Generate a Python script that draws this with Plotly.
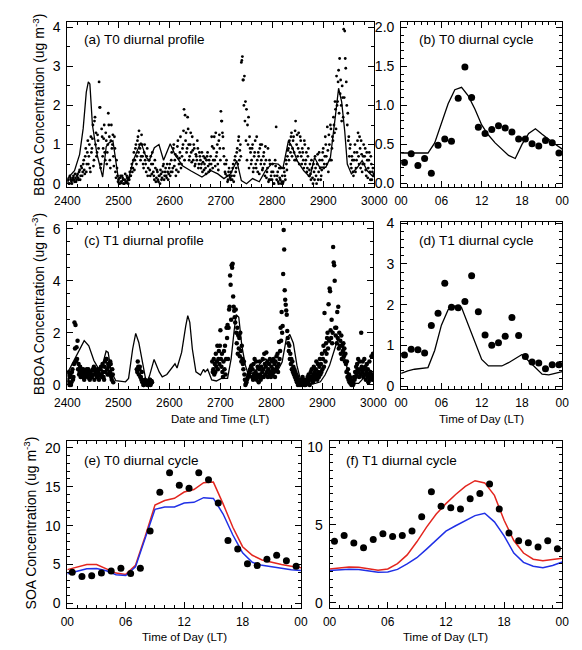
import plotly.graph_objects as go

W, H = 582, 650

# ---------------- data ----------------
# (a) T0 BBOA observations, even hours from 2400
a_obs_v = [
    0.05, 0.1, 0.0, 0.15, 0.05, 0.1, 0.2, 0.05, 0.15, 0.1,
    0.25, 0.1, 0.35, 0.2, 0.4, 0.3, 0.6, 0.25, 0.9, 0.5,
    1.1, 0.7, 0.4, 1.2, 0.9, 1.5, 0.6, 1.7, 1.3, 0.8,
    1.1, 2.6, 1.95, 0.5, 1.2, 0.9, 1.5, 0.6, 1.1, 0.8,
    1.8, 1.2, 0.4, 1.5, 1.0, 0.7, 1.2, 0.3, 0.6, 0.2,
    0.1, 0.0, 0.2, 0.05, 0.15, 0.0, 0.1, 0.05, 0.2, 0.1,
    0.15, 0.3, 0.2, 0.5, 0.4, 0.8, 0.6, 1.0, 0.7, 1.2,
    1.35, 0.9, 0.7, 1.0, 0.5, 0.8, 0.6, 0.3, 0.9, 0.4,
    0.6, 0.2, 0.5, 0.8, 0.3, 0.1, 0.4, 0.15, 0.3, 0.05,
    0.2, 0.35, 0.1, 0.3, 0.5, 0.2, 0.4, 0.15, 0.3, 0.25,
    0.5, 0.3, 0.8, 0.4, 1.0, 0.6, 0.2, 0.7, 1.1, 0.5,
    0.8, 0.4, 0.7, 1.0, 1.9, 1.75, 1.3, 0.9, 1.4, 0.6,
    1.0, 0.8, 1.2, 0.6, 0.9, 0.5, 0.7, 1.1, 0.4, 0.8,
    0.6, 0.5, 0.3, 0.7, 0.5, 0.4, 0.6, 0.8, 0.3, 0.5,
    0.7, 1.2, 0.4, 0.9, 0.6, 1.3, 0.8, 0.5, 1.1, 0.9,
    1.85, 1.6, 1.2, 0.7, 0.3, 0.5, 0.2, 0.1, 0.4, 0.15,
    0.3, 0.1, 0.5, 0.2, 0.7, 0.4, 0.9, 1.1, 0.6, 1.0,
    3.1, 3.25, 2.65, 2.75, 2.1, 1.9, 1.5, 1.7, 1.2, 0.8,
    0.6, 1.0, 0.4, 0.8, 0.5, 1.2, 0.3, 0.7, 0.9, 0.5,
    1.0, 0.4, 0.8, 0.2, 0.6, 0.3, 0.9, 0.1, 0.5, 0.2,
    0.1, 0.3, 0.0, 0.6, 1.45, 0.2, 0.05, 0.4, 0.1, 0.0,
    0.2, 0.05, 0.3, 0.1, 0.5, 0.7, 0.9, 1.1, 0.8, 1.3,
    0.9, 1.2, 0.6, 1.6, 1.0, 0.7, 1.3, 0.8, 1.1, 0.5,
    0.8, 0.4, 1.0, 0.6, 0.3, 0.7, 0.2, 0.5, 0.1, 0.4,
    0.0, 0.3, 0.7, 0.2, 0.5, 0.1, 0.8, 0.4, 0.2, 0.6,
    0.9, 0.5, 1.2, 0.7, 1.45, 0.3, 1.0, 1.5, 0.6, 1.2,
    1.7, 1.3, 1.9, 2.75, 2.1, 2.9, 3.2, 2.65, 1.6, 2.2,
    3.95, 3.9, 2.95, 2.0, 1.8, 1.2, 0.9, 0.5, 0.7, 0.3,
    0.6, 1.0, 0.4, 0.8, 1.3, 0.5, 0.9, 1.1, 0.3, 0.7,
    0.5, 0.9, 0.2, 0.6, 0.4, 0.8, 0.1, 0.5, 0.3, 0.2,
]
a_obs_t = [2400 + 2 * i for i in range(len(a_obs_v))]
# (a) T0 BBOA observations, odd hours from 2401
a_obs2_v = [
    0.1, 0.0, 0.2, 0.1, 0.0, 0.15, 0.1, 0.25, 0.05, 0.2,
    0.15, 0.3, 0.1, 0.45, 0.2, 0.5, 0.35, 0.7, 0.3, 0.8,
    0.5, 1.0, 0.3, 0.8, 1.15, 0.45, 1.6, 1.0, 0.7, 1.25,
    0.9, 1.95, 0.4, 1.4, 0.7, 1.15, 0.8, 1.3, 0.5, 1.0,
    1.5, 0.6, 1.1, 0.9, 1.25, 0.45, 0.9, 0.15, 0.4, 0.05,
    0.0, 0.15, 0.05, 0.2, 0.1, 0.0, 0.25, 0.05, 0.15, 0.0,
    0.1, 0.2, 0.4, 0.3, 0.6, 0.35, 0.9, 0.5, 1.1, 0.8,
    1.0, 0.6, 1.25, 0.7, 0.4, 1.0, 0.5, 0.7, 0.2, 0.6,
    0.35, 0.7, 0.25, 0.5, 0.2, 0.6, 0.05, 0.35, 0.1, 0.2,
    0.0, 0.25, 0.15, 0.45, 0.1, 0.3, 0.2, 0.5, 0.1, 0.4,
    0.2, 0.6, 0.3, 0.9, 0.45, 0.75, 0.35, 0.95, 0.3, 0.65,
    1.2, 0.5, 0.9, 1.35, 0.6, 1.1, 0.8, 1.7, 1.0, 0.7,
    1.3, 0.55, 0.85, 1.0, 0.45, 0.75, 0.6, 0.9, 0.5, 0.7,
    0.4, 0.8, 0.55, 0.35, 0.65, 0.25, 0.7, 0.45, 0.6, 0.35,
    0.5, 0.95, 0.6, 1.2, 0.45, 0.7, 1.0, 0.35, 1.25, 0.6,
    1.6, 1.3, 0.9, 0.5, 0.25, 0.6, 0.05, 0.3, 0.2, 0.1,
    0.2, 0.4, 0.05, 0.6, 0.3, 0.8, 0.5, 1.2, 0.85, 0.7,
    3.15, 2.65, 2.0, 1.6, 1.1, 0.6, 1.0, 0.4, 0.9, 0.5,
    0.9, 0.3, 0.7, 1.1, 0.4, 0.6, 0.8, 0.25, 1.0, 0.6,
    0.35, 0.7, 0.5, 0.95, 0.15, 0.4, 0.05, 0.6, 0.1, 0.3,
    0.5, 0.0, 0.2, 0.45, 0.1, 0.3, 0.0, 0.15, 0.4, 0.05,
    0.0, 0.4, 0.2, 0.6, 0.35, 0.85, 0.6, 1.0, 1.2, 0.7,
    1.1, 0.8, 1.35, 0.6, 1.25, 0.9, 0.5, 1.2, 0.7, 0.9,
    0.6, 1.1, 0.5, 0.8, 0.4, 0.9, 0.35, 0.25, 0.6, 0.15,
    0.5, 0.1, 0.4, 0.0, 0.75, 0.3, 0.6, 0.1, 0.35, 0.8,
    0.4, 0.7, 1.0, 0.5, 0.85, 1.25, 0.6, 1.4, 0.9, 1.1,
    1.5, 2.1, 1.4, 2.0, 2.6, 1.8, 2.3, 2.0, 2.5, 1.7,
    2.2, 3.2, 2.6, 1.5, 1.1, 0.7, 1.0, 0.4, 0.6, 0.2,
    0.8, 0.3, 0.6, 1.1, 0.7, 1.2, 0.4, 0.75, 0.5, 1.0,
    0.7, 0.35, 0.8, 0.15, 0.6, 0.3, 0.7, 0.1, 0.4, 0.25,
]
a_obs2_t = [2401 + 2 * i for i in range(len(a_obs2_v))]

# (a) T0 BBOA model
a_mod_t = [2400, 2414, 2424, 2431, 2437, 2441, 2444, 2449, 2458, 2469, 2476, 2482,
           2489, 2495, 2501, 2517, 2529, 2539, 2544, 2554, 2560, 2570, 2579, 2588,
           2601, 2610, 2625, 2641, 2663, 2681, 2694, 2706, 2719, 2731, 2740, 2750,
           2762, 2775, 2787, 2800, 2812, 2821, 2832, 2840, 2849, 2862, 2874, 2883,
           2893, 2905, 2914, 2924, 2930, 2936, 2942, 2947, 2955, 2967, 2976, 2986,
           2998]
a_mod_v = [0.13, 0.33, 0.75, 1.42, 2.34, 2.6, 2.55, 1.5, 0.75, 0.17, 0.95, 1.05,
           1.1, 0.6, 0.0, 0.0, 0.6, 0.92, 1.05, 0.67, 0.59, 0.92, 1.0, 0.6,
           1.02, 0.75, 0.46, 0.33, 0.17, 0.33, 0.25, 0.13, 0.25, 0.59, 0.08, 0.0,
           0.13, 0.05, 0.33, 0.52, 0.5, 0.38, 1.1, 0.92, 0.59, 0.33, 0.17, 0.67,
           0.42, 0.42, 0.67, 1.76, 2.44, 2.09, 1.34, 0.5, 0.25, 0.42, 0.59, 0.33,
           0.17]

# (b) T0 BBOA diurnal cycle
hours_mid = [h + 0.5 for h in range(24)]
hours = list(range(25))
b_obs = [0.27, 0.38, 0.23, 0.32, 0.13, 0.49, 0.57, 0.54, 1.09, 1.49, 1.10, 0.72,
         0.64, 0.69, 0.74, 0.71, 0.66, 0.57, 0.57, 0.51, 0.48, 0.55, 0.52, 0.39]
b_mod = [0.39, 0.39, 0.39, 0.39, 0.39, 0.52, 0.78, 1.02, 1.2, 1.23, 1.12, 0.95,
         0.75, 0.62, 0.52, 0.44, 0.36, 0.32, 0.5, 0.64, 0.7, 0.63, 0.56, 0.5, 0.44]

# (c) T1 BBOA observations
c_obs1_v = [  # even hours from 2400
    0.2, 0.5, 0.0, 0.4, 0.1, 0.6, 0.3, 2.4, 2.3, 1.45,
    1.7, 0.8, 0.5, 0.3, 0.6, 0.4, 0.5, 0.3, 0.4, 0.6,
    0.3, 0.5, 0.2, 0.4, 0.3, 0.6, 0.7, 0.4, 0.5, 0.3,
    0.6, 0.2, 0.4, 0.7, 0.3, 0.5, 0.2, 0.9, 1.0, 0.6,
    0.8, 0.4, 0.9, 0.3, 0.6, 0.1,
]
c_obs1_t = [2400 + 2 * i for i in range(len(c_obs1_v))]
c_obs1b_v = [  # odd hours from 2401
    0.4, 0.1, 0.3, 0.0, 0.5, 0.2, 0.8, 1.4, 0.9, 1.0,
    0.6, 0.4, 0.7, 0.5, 0.3, 0.6, 0.2, 0.5, 0.35, 0.45,
    0.6, 0.25, 0.5, 0.3, 0.55, 0.4, 0.2, 0.6, 0.45, 0.3,
    0.5, 0.35, 0.6, 0.4, 0.8, 0.3, 0.7, 0.5, 1.0, 0.4,
    0.7, 0.5, 0.8, 0.2, 0.4,
]
c_obs1b_t = [2401 + 2 * i for i in range(len(c_obs1b_v))]
c_obs2_v = [  # hourly from 2536
    0.6, 0.5, 0.9, 0.7, 0.4, 0.6, 0.7, 0.3, 0.3, 0.2, 0.5, 0.1, 0.1, 0.0, 0.0,
    0.1, 0.2, 0.05, 0.05, 0.15, 0.15, 0.0, 0.0, 0.1, 0.1, 0.2, 0.2, 0.0, 0.05,
    0.15, 0.1,
]
c_obs2_t = [2536 + i for i in range(len(c_obs2_v))]
c_obs3_v = [  # hourly from 2684
    0.9, 0.5, 0.6, 1.0, 0.4, 0.8, 0.5, 1.2, 0.7, 0.9,
    1.5, 0.6, 1.0, 1.3, 0.8, 1.5, 2.1, 1.0, 0.7, 1.2,
    0.5, 0.3, 0.9, 1.3, 0.6, 1.5, 0.4, 1.0, 2.2, 1.8,
    2.3, 1.0, 2.2, 2.9, 3.0, 4.2, 3.85, 2.5, 4.6, 4.5,
    4.65, 3.4, 3.0, 2.85, 2.6, 2.4, 2.9, 2.0, 1.6, 2.2,
    1.2, 1.9, 1.4, 1.8, 1.1, 2.0, 1.3, 0.9, 1.5, 1.0,
    0.8, 0.6, 0.9, 0.4, 0.2, 0.0, 0.05, 0.1, 0.2, 0.25,
    0.3, 0.4, 0.35, 0.5, 0.6, 0.55, 0.7, 0.75, 0.3, 0.6,
    0.2, 0.8, 0.4, 1.0, 0.3, 0.5, 0.9, 0.2, 0.4, 0.7,
    0.3, 0.1, 0.6, 0.9, 0.4, 0.2, 0.7, 0.3, 0.5, 1.0,
    0.6, 0.3, 1.2, 0.8, 0.4, 0.7, 1.25, 0.5, 0.9, 0.3,
    0.6, 0.8, 0.4, 1.0, 0.5, 0.3, 0.7, 0.9, 0.4, 0.6,
    1.0, 0.5, 0.8, 0.3, 0.9, 0.6, 1.1, 0.7, 1.2, 0.5,
    0.8, 1.65, 1.0, 1.3, 2.2, 1.7, 2.8, 2.0, 2.26, 4.26,
    5.95, 5.2, 3.64, 3.27, 3.08, 2.86, 2.7, 2.07, 1.8, 1.6,
    1.3, 1.5, 1.0, 1.2, 0.8, 1.0, 0.6, 0.9, 0.5, 0.7,
    0.4, 0.6, 0.3, 0.5, 0.2, 0.4, 0.1, 0.3, 0.0, 0.2,
    0.1, 0.15, 0.0, 0.05, 0.2, 0.1, 0.0, 0.3, 0.1, 0.05,
    0.2, 0.0, 0.1,
    0.0, 0.1, 0.2, 0.05, 0.3, 0.1, 0.4, 0.2, 0.0, 0.3,
    0.5, 0.2, 0.6, 0.3, 0.1, 0.4, 0.7, 0.2, 0.5, 0.3,
    0.6, 0.9, 0.4, 0.2, 0.8, 0.5, 0.3, 0.7, 1.0, 0.4,
    0.8, 0.5, 1.2, 0.6, 1.0, 1.5, 0.7, 2.76, 1.3, 0.9,
    1.6, 1.2, 1.8, 2.0, 1.4, 3.1, 1.7, 3.7, 3.6, 2.1,
    1.8, 2.5, 1.6, 2.0, 5.3, 4.7, 4.6, 4.0, 2.2, 1.9,
    2.2, 1.6, 2.8, 1.8, 3.0, 1.4, 2.0, 1.5, 1.7, 1.2,
    1.9, 1.0, 1.5, 1.3, 1.6, 1.1, 1.4, 0.9, 1.2, 0.8,
    0.5, 0.9, 0.3, 0.6, 0.2, 0.4, 0.1, 0.3, 0.05, 0.2,
    0.0, 0.15, 0.1, 0.0, 0.05, 0.3, 0.2, 0.5, 0.3, 0.7,
    0.4, 0.8, 0.6, 1.0, 0.5, 0.3, 0.9, 0.6, 0.4, 2.0,
    0.7, 0.5, 0.9, 0.3, 0.6, 1.0, 0.4, 0.7, 0.2, 0.5,
    0.8, 0.3, 0.6, 0.1, 0.4, 0.9, 0.2, 0.5, 0.3, 1.1,
    0.4, 0.2, 1.2, 0.3,
]
c_obs3_t = [2684 + i for i in range(len(c_obs3_v))]

# (c) T1 BBOA model
c_mod_t = [2400, 2421, 2433, 2442, 2452, 2461, 2468, 2476, 2480, 2486, 2495, 2514,
           2520, 2528, 2534, 2540, 2549, 2555, 2561, 2570, 2580, 2586, 2595, 2605,
           2611, 2615, 2624, 2632, 2636, 2640, 2645, 2652, 2661, 2667, 2670, 2675,
           2683, 2692, 2702, 2714, 2721, 2727, 2731, 2736, 2742, 2749, 2755, 2767,
           2780, 2789, 2799, 2811, 2821, 2829, 2836, 2843, 2850, 2858, 2871, 2886,
           2896, 2905, 2914, 2924, 2930, 2936, 2942, 2952, 2958, 2971, 2980, 2989,
           3000]
c_mod_v = [0.45, 1.25, 1.7, 1.5, 0.94, 0.63, 0.7, 1.3, 1.25, 0.5, 0.16, 0.12,
           0.25, 1.38, 1.98, 1.63, 0.63, 0.06, 0.35, 0.98, 0.5, 0.31, 0.4, 0.63,
           0.81, 0.65, 1.25, 2.26, 2.66, 2.4, 1.38, 0.5, 0.38, 0.6, 0.5, 0.6,
           0.19, 0.15, 0.25, 0.25, 1.0, 2.1, 2.7, 2.6, 1.5, 0.75, 0.38, 0.5,
           0.88, 1.0, 0.75, 0.5, 0.88, 1.75, 1.94, 1.6, 0.75, 0.12, 0.0, 0.06,
           0.12, 0.38, 0.75, 1.38, 1.75, 1.7, 1.13, 0.38, 0.06, 0.06, 0.25, 0.5,
           0.15]

# (d) T1 BBOA diurnal cycle
d_obs = [0.77, 0.91, 0.90, 0.82, 1.49, 1.79, 2.53, 1.94, 1.93, 2.08, 2.71, 1.83,
         1.26, 1.01, 1.07, 1.23, 1.69, 1.25, 0.73, 0.60, 0.57, 0.43, 0.53, 0.53]
d_mod = [0.32, 0.38, 0.42, 0.44, 0.46, 0.88, 1.5, 1.88, 1.97, 1.93, 1.5, 1.05,
         0.66, 0.5, 0.5, 0.5, 0.58, 0.68, 0.78, 0.62, 0.47, 0.3, 0.28, 0.32, 0.36]

# (e) T0 SOA diurnal cycle
e_obs = [4.0, 3.48, 3.57, 3.91, 4.17, 4.52, 3.87, 4.52, 9.3, 14.3, 16.8, 15.2,
         14.8, 16.8, 15.9, 12.9, 8.1, 7.0, 5.1, 4.87, 5.7, 6.2, 5.5, 4.8]
e_red = [4.35, 4.7, 5.0, 5.0, 4.48, 3.91, 3.74, 4.91, 8.63, 12.64, 13.24, 13.52,
         14.32, 14.64, 15.52, 15.6, 12.8, 9.8, 7.3, 6.2, 5.6, 5.3, 5.0, 4.8, 4.6]
e_blue = [3.83, 4.1, 4.45, 4.5, 4.2, 3.7, 3.6, 4.7, 8.3, 12.1, 12.4, 12.4,
          12.9, 13.0, 13.6, 13.5, 11.5, 8.8, 6.5, 5.3, 4.9, 4.7, 4.5, 4.35, 4.25]

# (f) T1 SOA diurnal cycle
f_obs = [3.96, 4.32, 3.84, 3.54, 4.07, 4.44, 4.26, 4.32, 4.61, 5.53, 7.13, 6.2,
         6.1, 6.02, 6.69, 7.02, 7.63, 6.02, 4.49, 3.98, 3.86, 3.58, 3.98, 3.48]
f_red = [2.18, 2.26, 2.31, 2.29, 2.18, 2.1, 2.18, 2.52, 3.08, 3.92, 4.86, 5.7,
         6.37, 6.96, 7.48, 7.84, 7.7, 6.9, 5.3, 4.0, 3.2, 2.8, 2.7, 2.78, 2.87]
f_blue = [2.07, 2.12, 2.16, 2.14, 2.05, 1.96, 1.98, 2.15, 2.5, 2.9, 3.45, 4.05,
          4.6, 4.95, 5.3, 5.6, 5.75, 5.2, 4.3, 3.2, 2.6, 2.35, 2.25, 2.4, 2.62]

diurnal_ticks = [0, 6, 12, 18, 24]
diurnal_labels = ["00", "06", "12", "18", "00"]
profile_ticks = [2400, 2500, 2600, 2700, 2800, 2900, 3000]

# ---------------- figure ----------------
FONT = "Liberation Sans, Arial, Helvetica, sans-serif"
RED = "#e3261f"
BLUE = "#2030e6"


def px(x):      # window pixel -> paper fraction (x)
    return x / W


def py(y):      # window pixel -> paper fraction (y)
    return 1 - y / H


def dom_x(x0, x1):
    return [px(x0), px(x1)]


def dom_y(y_top, y_bot):
    return [py(y_bot), py(y_top)]


def axis(domain, rng, anchor, minor_dtick, xfs, **kw):
    d = dict(domain=domain, range=rng, anchor=anchor,
             showline=True, linecolor="black", linewidth=1, mirror="allticks",
             ticks="inside", ticklen=6, tickwidth=1, tickcolor="black",
             showgrid=False, zeroline=False,
             tickfont=dict(family=FONT, size=xfs, color="black"),
             minor=dict(ticks="inside", ticklen=3, tickwidth=1,
                        tickcolor="black", dtick=minor_dtick, showgrid=False))
    d.update(kw)
    return d


fig = go.Figure()

scat = dict(mode="markers", showlegend=False, hoverinfo="skip")
lin = dict(mode="lines", showlegend=False, hoverinfo="skip")

# (a)
for tt, vv in ((a_obs_t, a_obs_v), (a_obs2_t, a_obs2_v)):
    fig.add_trace(go.Scatter(x=tt, y=vv, marker=dict(color="black", size=2.8),
                             xaxis="x", yaxis="y", **scat))
fig.add_trace(go.Scatter(x=a_mod_t, y=a_mod_v, line=dict(color="black", width=1.3),
                         xaxis="x", yaxis="y", **lin))
# (b)
fig.add_trace(go.Scatter(x=hours_mid, y=b_obs, marker=dict(color="black", size=7),
                         xaxis="x2", yaxis="y2", **scat))
fig.add_trace(go.Scatter(x=hours, y=b_mod, line=dict(color="black", width=1.3),
                         xaxis="x2", yaxis="y2", **lin))
# (c)
for tt, vv in ((c_obs1_t, c_obs1_v), (c_obs1b_t, c_obs1b_v),
               (c_obs2_t, c_obs2_v), (c_obs3_t, c_obs3_v)):
    fig.add_trace(go.Scatter(x=tt, y=vv, marker=dict(color="black", size=4.5),
                             xaxis="x3", yaxis="y3", **scat))
fig.add_trace(go.Scatter(x=c_mod_t, y=c_mod_v, line=dict(color="black", width=1.3),
                         xaxis="x3", yaxis="y3", **lin))
# (d)
fig.add_trace(go.Scatter(x=hours_mid, y=d_obs, marker=dict(color="black", size=7),
                         xaxis="x4", yaxis="y4", **scat))
fig.add_trace(go.Scatter(x=hours, y=d_mod, line=dict(color="black", width=1.3),
                         xaxis="x4", yaxis="y4", **lin))
# (e)
fig.add_trace(go.Scatter(x=hours, y=e_red, line=dict(color=RED, width=1.5),
                         xaxis="x5", yaxis="y5", **lin))
fig.add_trace(go.Scatter(x=hours, y=e_blue, line=dict(color=BLUE, width=1.5),
                         xaxis="x5", yaxis="y5", **lin))
fig.add_trace(go.Scatter(x=hours_mid, y=e_obs, marker=dict(color="black", size=7),
                         xaxis="x5", yaxis="y5", **scat))
# (f)
fig.add_trace(go.Scatter(x=hours, y=f_red, line=dict(color=RED, width=1.5),
                         xaxis="x6", yaxis="y6", **lin))
fig.add_trace(go.Scatter(x=hours, y=f_blue, line=dict(color=BLUE, width=1.5),
                         xaxis="x6", yaxis="y6", **lin))
fig.add_trace(go.Scatter(x=hours_mid, y=f_obs, marker=dict(color="black", size=7),
                         xaxis="x6", yaxis="y6", **scat))

XF, YF = 12, 14
XSO, YSO = 3, 3

row1 = dom_y(15, 183)
row2 = dom_y(219, 389)
row3 = dom_y(442, 612)

layout = dict(
    width=W, height=H, margin=dict(l=0, r=0, t=0, b=0),
    paper_bgcolor="white", plot_bgcolor="white",
    font=dict(family=FONT, color="black"),
    showlegend=False,
    xaxis=axis(dom_x(57, 379), [2400, 3000], "y", 20, XF,
               tickvals=profile_ticks, ticklabelstandoff=XSO),
    yaxis=axis(row1, [-0.075, 4.14], "x", 0.5, YF, dtick=1, tick0=0,
               ticklabelstandoff=YSO),
    xaxis2=axis(dom_x(407, 576), [0, 24], "y2", 1, XF,
                tickvals=diurnal_ticks, ticktext=diurnal_labels, ticklabelstandoff=XSO),
    yaxis2=axis(row1, [-0.04, 2.07], "x2", 0.1, YF, dtick=0.5, tick0=0,
                tickformat=".1f", ticklabelstandoff=YSO),
    xaxis3=axis(dom_x(57, 378), [2400, 3000], "y3", 20, XF,
                tickvals=profile_ticks, ticklabelstandoff=XSO),
    yaxis3=axis(row2, [-0.15, 6.26], "x3", 0.5, YF, dtick=2, tick0=0,
                ticklabelstandoff=YSO),
    xaxis4=axis(dom_x(407, 576), [0, 24], "y4", 1, XF,
                tickvals=diurnal_ticks, ticktext=diurnal_labels, ticklabelstandoff=XSO),
    yaxis4=axis(row2, [-0.06, 4.03], "x4", 0.2, YF, dtick=1, tick0=0,
                ticklabelstandoff=YSO),
    xaxis5=axis(dom_x(57, 302), [0, 24], "y5", 1, XF,
                tickvals=diurnal_ticks, ticktext=diurnal_labels, ticklabelstandoff=XSO),
    yaxis5=axis(row3, [-0.54, 20.9], "x5", 1, YF, dtick=5, tick0=0,
                ticklabelstandoff=YSO),
    xaxis6=axis(dom_x(332, 576), [0, 24], "y6", 1, XF,
                tickvals=diurnal_ticks, ticktext=diurnal_labels, ticklabelstandoff=XSO),
    yaxis6=axis(row3, [-0.31, 10.4], "x6", 0.5, YF, dtick=5, tick0=0,
                ticklabelstandoff=YSO),
)
fig.update_layout(**layout)


def ann(text, x, y, size, angle=0, xanchor="center"):
    fig.add_annotation(text=text, x=px(x), y=py(y), xref="paper", yref="paper",
                       showarrow=False, textangle=angle, xanchor=xanchor,
                       yanchor="middle", font=dict(family=FONT, size=size, color="black"))


PL = 13.5
ann("(a) T0 diurnal profile", 72, 33, PL, xanchor="left")
ann("(b) T0 diurnal cycle", 424, 33, PL, xanchor="left")
ann("(c) T1 diurnal profile", 72, 238, PL, xanchor="left")
ann("(d) T1 diurnal cycle", 424, 238, PL, xanchor="left")
ann("(e) T0 diurnal cycle", 72, 462, PL, xanchor="left")
ann("(f) T1 diurnal cycle", 347, 462, PL, xanchor="left")

ann("BBOA Concentration (ug m<sup>-3</sup>)", 27, 100, 14, angle=-90)
ann("BBOA Concentration (ug m<sup>-3</sup>)", 27, 303, 14, angle=-90)
ann("SOA Concentration (ug m<sup>-3</sup>)", 18, 526, 14, angle=-90)

XT = 11.5
ann("Date and Time (LT)", 217, 420, XT)
ann("Time of Day (LT)", 491, 420, XT)
ann("Time of Day (LT)", 180, 642, XT)
ann("Time of Day (LT)", 454, 642, XT)

fig.write_html(
    "out.html",
    config={"displayModeBar": False},
    post_script=("document.documentElement.style.margin='0';"
                 "document.body.style.margin='0';"
                 "document.body.style.overflow='hidden';"),
)
